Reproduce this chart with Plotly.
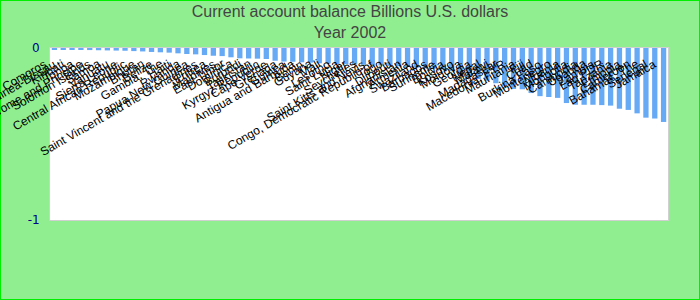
import plotly.graph_objects as go

countries = [
    "Comoros", "Guinea-Bissau", "Kiribati", "Tonga", "Sao Tome and Principe",
    "Solomon Islands", "Samoa", "Vanuatu", "Sierra Leone", "Central African Republic",
    "Mozambique", "Bhutan", "Belize", "Gambia, The", "Haiti",
    "Rwanda", "Papua New Guinea", "Saint Vincent and the Grenadines", "Eritrea", "Maldives",
    "East Timor", "Dominica", "Burundi", "Tajikistan", "Kyrgyz Republic",
    "Cape Verde", "Grenada", "Guinea", "Antigua and Barbuda", "Benin",
    "Guyana", "Mali", "Lesotho", "Saint Lucia", "Niger",
    "Seychelles", "Saint Kitts and Nevis", "Congo, Democratic Republic of", "Togo", "Djibouti",
    "Afghanistan", "Armenia", "Swaziland", "Barbados", "Suriname",
    "Bolivia", "Kosovo", "Moldova", "Georgia", "Nepal",
    "Malawi", "Madagascar", "Macedonia, FYR", "Mauritania", "Fiji",
    "Chad", "Burkina Faso", "Montenegro", "Albania", "Mongolia",
    "Cambodia", "Uganda", "Zambia", "Lao PDR", "Tanzania",
    "Ethiopia", "Cameroon", "Bahamas, The", "Senegal", "Jamaica",
]

balance = [
    -0.008, -0.009, -0.010, -0.011, -0.012, -0.013, -0.014, -0.015, -0.016, -0.018,
    -0.020, -0.023, -0.025, -0.027, -0.031, -0.035, -0.037, -0.041, -0.045, -0.047,
    -0.054, -0.060, -0.061, -0.062, -0.064, -0.074, -0.079, -0.080, -0.083, -0.085,
    -0.089, -0.090, -0.093, -0.094, -0.096, -0.098, -0.100, -0.102, -0.104, -0.106,
    -0.110, -0.112, -0.115, -0.120, -0.125, -0.135, -0.160, -0.170, -0.180, -0.190,
    -0.205, -0.220, -0.238, -0.240, -0.262, -0.280, -0.285, -0.290, -0.320, -0.330,
    -0.330, -0.330, -0.332, -0.335, -0.353, -0.360, -0.380, -0.405, -0.410, -0.430,
]

title_lines = ["Current account balance Billions U.S. dollars", "Year 2002"]
y_ticks = [0, -1]

fig = go.Figure(go.Bar(
    x=countries, y=balance,
    marker=dict(color="#66AAF5", line=dict(width=0)),
))

annotations = [
    dict(x=c, y=0, xref="x", yref="y", text=c, showarrow=False, textangle=-30,
         xanchor="right", yanchor="top", xshift=-2, yshift=-6,
         font=dict(family="Liberation Sans, Arial", size=12, color="black"))
    for c in countries
]

fig.update_layout(
    width=700, height=300,
    paper_bgcolor="#90EE90", plot_bgcolor="white",
    margin=dict(l=50, r=32, t=48, b=80),
    bargap=0.4,
    showlegend=False,
    title=dict(text="<br>".join(title_lines), x=0.5, xanchor="center",
               yref="container", y=0.943, yanchor="top",
               font=dict(family="Liberation Sans, Arial", size=16, color="#444444")),
    xaxis=dict(range=[-0.5, len(countries) - 0.5], showticklabels=False, showgrid=False, ticks="",
               showline=True, linecolor="#D0D0D0", mirror=True, automargin=False),
    yaxis=dict(range=[-1, 0], tickvals=y_ticks, ticktext=[str(v) for v in y_ticks],
               showgrid=False, zeroline=False, showline=True, linecolor="#D0D0D0", mirror=True,
               tickfont=dict(family="DejaVu Sans", size=12, color="#00008B"),
               ticks="outside", ticklen=7, tickcolor="rgba(0,0,0,0)", automargin=False),
    annotations=annotations,
    shapes=[dict(type="rect", xref="paper", yref="paper",
                 x0=-50/618, x1=1+32/618, y0=-80/172, y1=1+48/172,
                 line=dict(color="#00EE00", width=2), layer="below")],
)

fig.write_html("out.html")
